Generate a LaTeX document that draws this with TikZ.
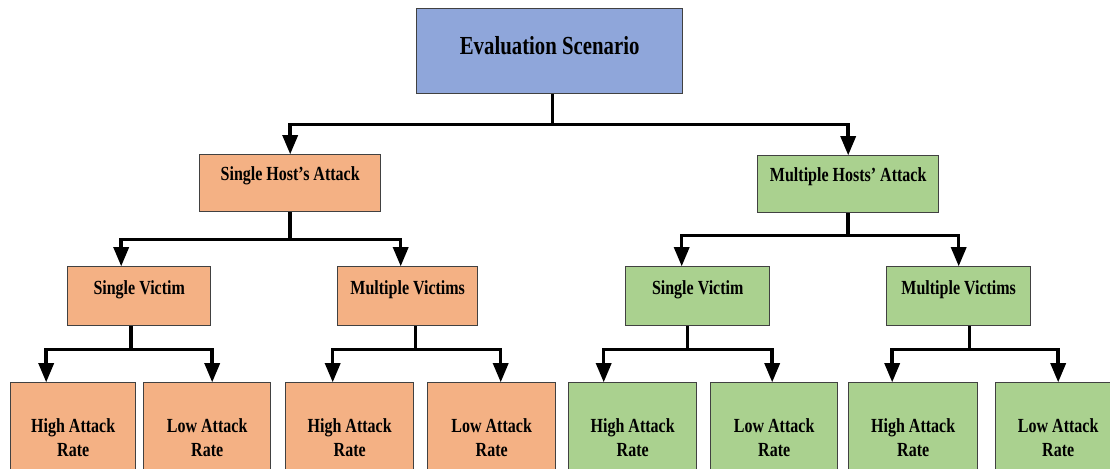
\documentclass[tikz,border=0pt]{standalone}
\usepackage{fontspec}
\setmainfont{Liberation Serif}[FakeStretch=0.8]
\usetikzlibrary{arrows}

\definecolor{scenblue}{RGB}{143,166,218}
\definecolor{hostorange}{RGB}{244,177,132}
\definecolor{hostgreen}{RGB}{170,209,143}
\definecolor{boxedge}{RGB}{65,65,65}

\tikzset{
  box/.style={draw=boxedge,line width=1.4bp,inner sep=0pt,anchor=north west,font=\bfseries\fontsize{20bp}{24bp}\selectfont},
  rootbox/.style={box,fill=scenblue,font=\bfseries\fontsize{26bp}{30bp}\selectfont,text height=46bp,text depth=39bp,minimum width=266bp},
  hostbox/.style={box,text height=26bp,text depth=31bp,minimum width=181bp},
  victbox/.style={box,text height=28bp,text depth=31bp},
  ratebox/.style={box,align=center,minimum height=110bp},
  wire/.style={line width=3.5bp,black}
}

\begin{document}
\begin{tikzpicture}[line join=miter,>=triangle 45,x=1bp,y=-1bp]
\fill[white] (0,0) rectangle (1110,469);
\useasboundingbox (0,0) rectangle (1110,469);

% root
\node (scen) at (416,8) [rootbox] {Evaluation Scenario};

% hosts
\node (shost) at (199,154) [hostbox,fill=hostorange] {Single Host's Attack};
\node (mhost) at (757,155) [hostbox,fill=hostgreen] {Multiple Hosts' Attack};

% victims
\node (svl) at (67,266) [victbox,fill=hostorange,minimum width=143bp] {Single Victim};
\node (mvl) at (337,266) [victbox,fill=hostorange,minimum width=140bp] {Multiple Victims};
\node (svr) at (625,266) [victbox,fill=hostgreen,minimum width=144bp] {Single Victim};
\node (mvr) at (886,266) [victbox,fill=hostgreen,minimum width=144bp] {Multiple Victims};

% rates
\node (hl1) at (10,382) [ratebox,fill=hostorange,minimum width=125bp] {High Attack\\Rate};
\node (ll1) at (143,382) [ratebox,fill=hostorange,minimum width=127bp] {Low Attack\\Rate};
\node (hl2) at (285,382) [ratebox,fill=hostorange,minimum width=128bp] {High Attack\\Rate};
\node (ll2) at (427,382) [ratebox,fill=hostorange,minimum width=128bp] {Low Attack\\Rate};
\node (hr1) at (568,382) [ratebox,fill=hostgreen,minimum width=128bp] {High Attack\\Rate};
\node (lr1) at (710,382) [ratebox,fill=hostgreen,minimum width=127bp] {Low Attack\\Rate};
\node (hr2) at (848,382) [ratebox,fill=hostgreen,minimum width=129bp] {High Attack\\Rate};
\node (lr2) at (995,382) [ratebox,fill=hostgreen,minimum width=125bp] {Low Attack\\Rate};

% connectors
\draw[wire,->] ([xshift=3bp]scen.south) -- ++(0,30) -| (shost.north);
\draw[wire,->] ([xshift=3bp]scen.south) -- ++(0,30) -| (mhost.north);

\draw[wire,->] (shost.south) -- ++(0,27) -| ([xshift=-18bp]svl.north);
\draw[wire,->] (shost.south) -- ++(0,27) -| ([xshift=-7bp]mvl.north);
\draw[wire,->] (mhost.south) -- ++(0,22) -| ([xshift=-16bp]svr.north);
\draw[wire,->] (mhost.south) -- ++(0,22) -| (mvr.north);

\draw[wire,->] ([xshift=-8bp]svl.south) -- ++(0,23) -| ([xshift=-27bp]hl1.north);
\draw[wire,->] ([xshift=-8bp]svl.south) -- ++(0,23) -| ([xshift=5bp]ll1.north);
\draw[wire,->] ([xshift=8bp]mvl.south) -- ++(0,23) -| ([xshift=-17bp]hl2.north);
\draw[wire,->] ([xshift=8bp]mvl.south) -- ++(0,23) -| ([xshift=9bp]ll2.north);
\draw[wire,->] ([xshift=-10bp]svr.south) -- ++(0,23) -| ([xshift=-29bp]hr1.north);
\draw[wire,->] ([xshift=-10bp]svr.south) -- ++(0,23) -| ([xshift=-2bp]lr1.north);
\draw[wire,->] ([xshift=11bp]mvr.south) -- ++(0,23) -| ([xshift=-21bp]hr2.north);
\draw[wire,->] ([xshift=11bp]mvr.south) -- ++(0,23) -| (lr2.north);
\end{tikzpicture}
\end{document}
